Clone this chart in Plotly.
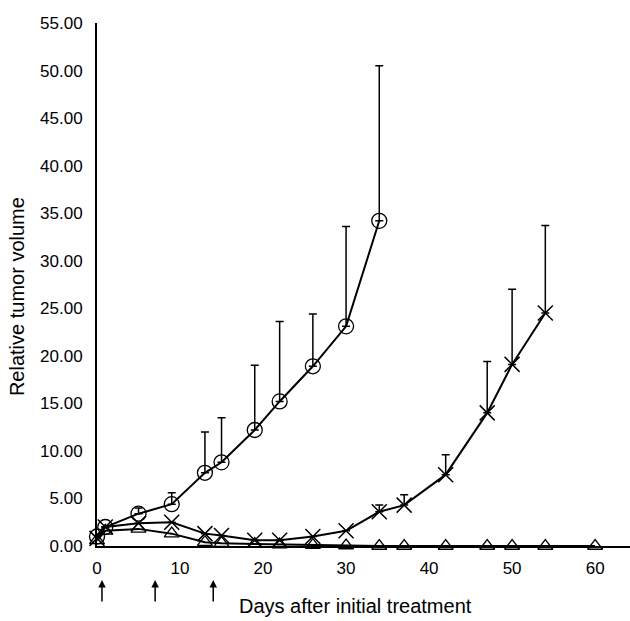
import plotly.graph_objects as go

# control group (open circles)
ctrl_days = [0, 1, 5, 9, 13, 15, 19, 22, 26, 30, 34]
ctrl_vol = [1.0, 2.0, 3.4, 4.4, 7.7, 8.8, 12.2, 15.2, 18.9, 23.1, 34.2]
ctrl_err = [0, 0, 0.6, 1.2, 4.3, 4.7, 6.8, 8.4, 5.5, 10.5, 16.3]

# treatment A (crosses)
trtA_days = [0, 1, 5, 9, 13, 15, 19, 22, 26, 30, 34, 37, 42, 47, 50, 54]
trtA_vol = [0.8, 2.0, 2.4, 2.5, 1.3, 1.1, 0.6, 0.6, 1.0, 1.6, 3.6, 4.3, 7.5, 14.0, 19.1, 24.5]
trtA_err = [0, 0, 0, 0, 0, 0, 0, 0, 0, 0, 0.7, 1.1, 2.1, 5.4, 7.9, 9.2]

# treatment B (triangles)
trtB_days = [0, 1, 5, 9, 13, 15, 19, 22, 26, 30, 34, 37, 42, 47, 50, 54, 60]
trtB_vol = [0.6, 1.6, 1.8, 1.3, 0.4, 0.3, 0.2, 0.15, 0.1, 0.05, 0, 0, 0, 0, 0, 0, 0]

# dosing days (arrows under the axis)
dose_days = [0.6, 7, 14]

y_ticks = [0, 5, 10, 15, 20, 25, 30, 35, 40, 45, 50, 55]
x_ticks = [0, 10, 20, 30, 40, 50, 60]

FONT = "Liberation Sans, Arial, sans-serif"


def err(vals):
    return dict(type="data", symmetric=False, array=vals, arrayminus=[0] * len(vals),
                color="black", thickness=1.5, width=4)


fig = go.Figure()

fig.add_trace(go.Scatter(
    x=trtB_days, y=trtB_vol, mode="lines+markers",
    line=dict(color="black", width=2),
    marker=dict(symbol="triangle-up-open", size=13, color="black", line=dict(width=1.3)),
    cliponaxis=False, showlegend=False,
))

fig.add_trace(go.Scatter(
    x=trtA_days, y=trtA_vol, mode="lines+markers",
    line=dict(color="black", width=2),
    marker=dict(symbol="x-thin-open", size=15, color="black", line=dict(width=1.5, color="black")),
    error_y=err(trtA_err),
    cliponaxis=False, showlegend=False,
))

fig.add_trace(go.Scatter(
    x=ctrl_days, y=ctrl_vol, mode="lines+markers",
    line=dict(color="black", width=2),
    marker=dict(symbol="circle-open", size=15, color="black", line=dict(width=1.3)),
    error_y=err(ctrl_err),
    cliponaxis=False, showlegend=False,
))

for d in dose_days:
    fig.add_annotation(
        x=d, y=-0.065, xref="x", yref="paper", text="",
        showarrow=True, ax=0, ay=23, arrowhead=2, arrowsize=1,
        arrowwidth=1.5, arrowcolor="black",
    )

fig.add_annotation(
    x=0.485, y=-0.115, xref="paper", yref="paper", xanchor="center", yanchor="middle",
    text="Days after initial treatment", showarrow=False,
    font=dict(size=20, color="black", family=FONT),
)
fig.add_annotation(
    x=-0.15, y=0.476, xref="paper", yref="paper", xanchor="center", yanchor="middle",
    text="Relative tumor volume", showarrow=False, textangle=-90,
    font=dict(size=20, color="black", family=FONT),
)

fig.update_xaxes(
    range=[0, 64.2], tickvals=x_ticks, ticks="", showgrid=False, zeroline=False,
    showline=True, linecolor="black", linewidth=2, ticklabelstandoff=6,
    tickfont=dict(size=17, color="black", family=FONT),
)
fig.update_yaxes(
    range=[0, 55], tickvals=y_ticks, tickformat=".2f", ticks="", showgrid=False,
    zeroline=False, showline=True, linecolor="black", linewidth=2, ticklabelstandoff=9,
    tickfont=dict(size=17, color="black", family=FONT),
)

fig.update_layout(
    width=630, height=621,
    margin=dict(l=97, r=0, t=23, b=75),
    plot_bgcolor="white", paper_bgcolor="white",
)

# drop the default page margin so the figure sits at the window's top-left corner
fig.write_html("out.html", config={"displayModeBar": False},
               post_script="document.body.style.margin='0';")
